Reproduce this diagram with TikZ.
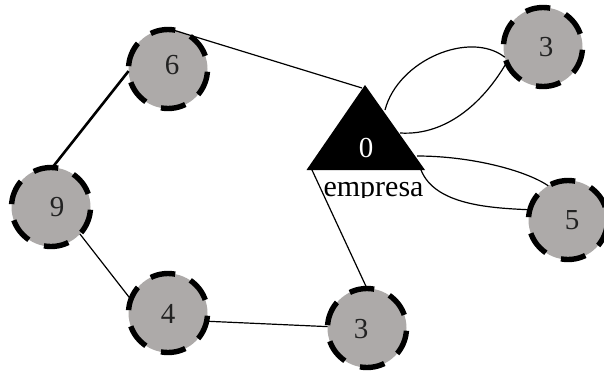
\documentclass[tikz,border=0pt]{standalone}
\usepackage{fontspec}
\setmainfont{Liberation Serif}
\definecolor{ringfill}{HTML}{ADAAA9}
\definecolor{digit}{HTML}{222222}
\tikzset{
  ringnode/.style={circle,fill=ringfill,minimum size=79pt,inner sep=0pt,outer sep=0pt,
    postaction={draw=black,line width=5.4pt,dash pattern=on 25pt off 16.4pt,dash phase=28pt}},
  digitnode/.style={inner sep=0pt,text=digit,font=\fontsize{29}{32}\selectfont},
  edge/.style={draw=black,line width=1.2pt},
  thickedge/.style={draw=black,line width=2.6pt},
  labeltext/.style={font=\fontsize{30}{32}\selectfont,inner sep=0pt,text=black}
}
\begin{document}
\begin{tikzpicture}[x=1pt,y=-1pt]
\useasboundingbox (0,0) rectangle (604,370);
\fill[white] (0,0) rectangle (604,370);
% triangle anchors
\coordinate (apex) at (365,85);
\coordinate (baseL) at (306.5,170);
\coordinate (baseR) at (425,170);
\coordinate (tA) at (362,88);
\coordinate (tB) at (312,170);
\coordinate (tC) at (385,110);
\coordinate (tD) at (400,133);
\coordinate (tE) at (417,156);
\coordinate (tF) at (421,170);
% nodes
\node[ringnode] (n6) at (168,69) {};
\node[ringnode] (n9) at (51,207) {};
\node[ringnode] (n4) at (168,313) {};
\node[ringnode] (n3b) at (367,328) {};
\node[ringnode] (n3t) at (543,47) {};
\node[ringnode] (n5) at (568,220) {};
\node[digitnode] (d6) at (172,65) {6};
\node[digitnode] (d9) at (57,207) {9};
\node[digitnode] (d4) at (168,314) {4};
\node[digitnode] (d3b) at (361,329) {3};
\node[digitnode] (d3t) at (546,47) {3};
\node[digitnode] (d5) at (572,220) {5};
\fill[black] (apex) -- (baseR) -- (baseL) -- cycle;
\node[digitnode,text=white] (zero) at (366,147.5) {0};
\begin{scope}
\clip (300,171) rectangle (440,197);
\node[labeltext,anchor=base] (lab) at (373.5,196) {empresa};
\end{scope}
\draw[edge] (n6.84) -- (tA);
\draw[thickedge] (n6.183) -- (n9.88);
\draw[edge] (n9.-43) -- (n4.160);
\draw[edge] (n4.-12) -- (n3b.178);
\draw[edge] (tB) -- (n3b.90);
\draw[edge] (tC) .. controls (398,60) and (470,30) .. (n3t.195);
\draw[edge] (tD) .. controls (448,136) and (485,100) .. (n3t.203);
\draw[edge] (tE) .. controls (470,156) and (525,170) .. (n5.120);
\draw[edge] (tF) .. controls (435,205) and (490,208) .. (n5.165);
\end{tikzpicture}
\end{document}
